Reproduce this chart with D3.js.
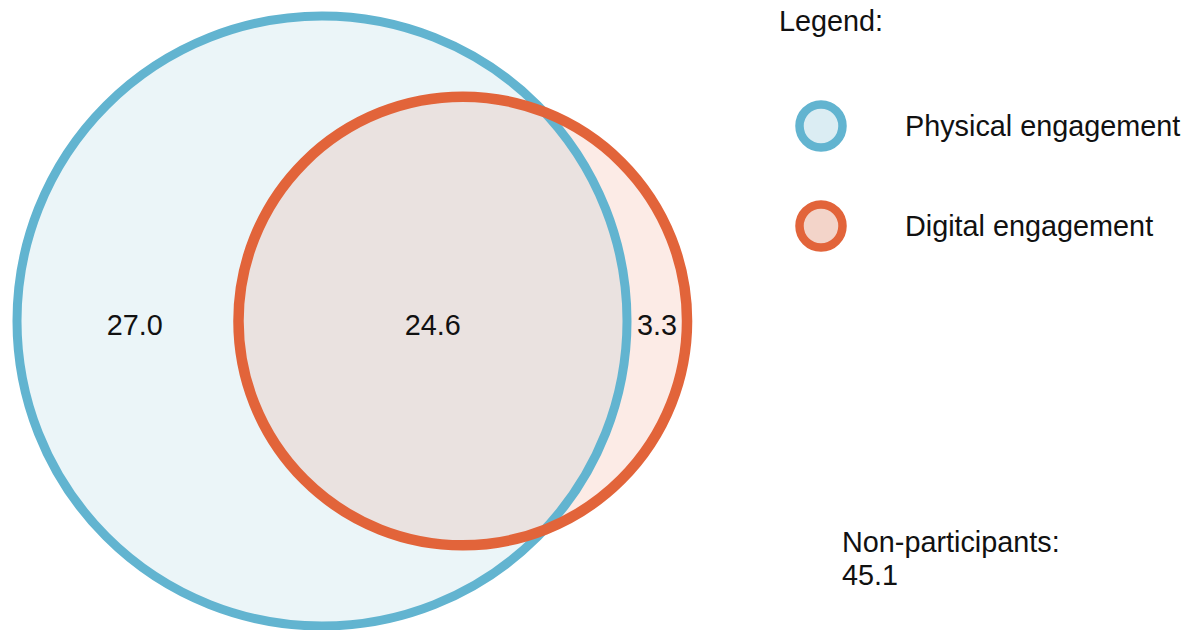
<!DOCTYPE html>
<html>
<head>
<meta charset="utf-8">
<script src="https://cdn.jsdelivr.net/npm/d3@7"></script>
<style>
  html, body { margin: 0; padding: 0; background: #ffffff; }
  svg { display: block; }
  text { font-family: "Liberation Sans", Arial, Helvetica, sans-serif; fill: #111; }
</style>
</head>
<body>
<svg id="chart" width="1191" height="630"></svg>
<script>
// ---- Data ----
const sets = ["Physical engagement", "Digital engagement"];
const onlyValues = [27.0, 3.3];      // physical only, digital only
const overlapValue = 24.6;           // both
const nonParticipants = 45.1;
const legendTitle = "Legend:";
const nonLabel = "Non-participants:";

const strokeColors = ["#62b4d0", "#e2643a"];
const fillColors = ["#ebf5f8", "rgba(232,104,64,0.13)"];
const legendFills = ["#dbedf3", "#f3d4c9"];

const W = 1191, H = 630;
const FS = "28.8px";
const svg = d3.select("#chart");

const totals = [onlyValues[0] + overlapValue, onlyValues[1] + overlapValue];
const rScale = d3.scaleSqrt().domain([0, totals[0]]).range([0, 305]);
const r1 = rScale(totals[0]), r2 = rScale(totals[1]);
const unitArea = Math.PI * r1 * r1 / totals[0];

function lensArea(d, a, b) {
  if (d >= a + b) return 0;
  if (d <= Math.abs(a - b)) return Math.PI * Math.min(a, b) ** 2;
  const p1 = a * a * Math.acos((d * d + a * a - b * b) / (2 * d * a));
  const p2 = b * b * Math.acos((d * d + b * b - a * a) / (2 * d * b));
  const p3 = 0.5 * Math.sqrt((-d + a + b) * (d + a - b) * (d - a + b) * (d + a + b));
  return p1 + p2 - p3;
}
const target = overlapValue * unitArea;
let lo = Math.abs(r1 - r2), hi = r1 + r2;
for (let i = 0; i < 80; i++) {
  const mid = (lo + hi) / 2;
  if (lensArea(mid, r1, r2) > target) lo = mid; else hi = mid;
}
const dist = (lo + hi) / 2;

const x = d3.scaleLinear().domain([0, 1]).range([322, 324 + dist]);
const cy = 321;
const circles = [
  { cx: x(0), r: r1, stroke: strokeColors[0], fill: fillColors[0], sw: 9 },
  { cx: x(1), r: r2, stroke: strokeColors[1], fill: fillColors[1], sw: 10.5 }
];

const g = svg.append("g");
g.selectAll("circle.fill").data(circles).join("circle")
  .attr("class", "fill")
  .attr("cx", d => d.cx).attr("cy", cy).attr("r", d => d.r)
  .attr("fill", d => d.fill).attr("stroke", "none");
g.selectAll("circle.ring").data(circles).join("circle")
  .attr("class", "ring")
  .attr("cx", d => d.cx).attr("cy", cy).attr("r", d => d.r)
  .attr("fill", "none").attr("stroke", d => d.stroke).attr("stroke-width", d => d.sw);

// Region labels at mid-points of each region along the centre line
const leftEdge1 = x(0) - r1, rightEdge1 = x(0) + r1;
const leftEdge2 = x(1) - r2, rightEdge2 = x(1) + r2;
const regionLabels = [
  { v: onlyValues[0], px: (leftEdge1 + leftEdge2) / 2 + 7 },
  { v: overlapValue, px: (leftEdge2 + rightEdge1) / 2 },
  { v: onlyValues[1], px: (rightEdge1 + rightEdge2) / 2 }
];
g.selectAll("text.region").data(regionLabels).join("text")
  .attr("class", "region")
  .attr("x", d => d.px).attr("y", 335)
  .attr("text-anchor", "middle")
  .style("font-size", FS)
  .text(d => d3.format(".1f")(d.v));

// Legend
svg.append("text").attr("x", 779).attr("y", 31).style("font-size", FS).text(legendTitle);
const ly = d3.scalePoint().domain(sets).range([126, 226]);
const lg = svg.selectAll("g.leg").data(sets).join("g").attr("class", "leg")
  .attr("transform", d => `translate(0,${ly(d)})`);
lg.append("circle").attr("cx", 821).attr("cy", 0).attr("r", 21.5)
  .attr("fill", (d, i) => legendFills[i]).attr("stroke", (d, i) => strokeColors[i])
  .attr("stroke-width", 8.5);
lg.append("text").attr("x", 905).attr("y", 10).style("font-size", FS).text(d => d);

// Non-participants
svg.append("text").attr("x", 842).attr("y", 552).style("font-size", FS).text(nonLabel);
svg.append("text").attr("x", 842).attr("y", 585).style("font-size", FS).text(d3.format(".1f")(nonParticipants));
</script>
</body>
</html>
